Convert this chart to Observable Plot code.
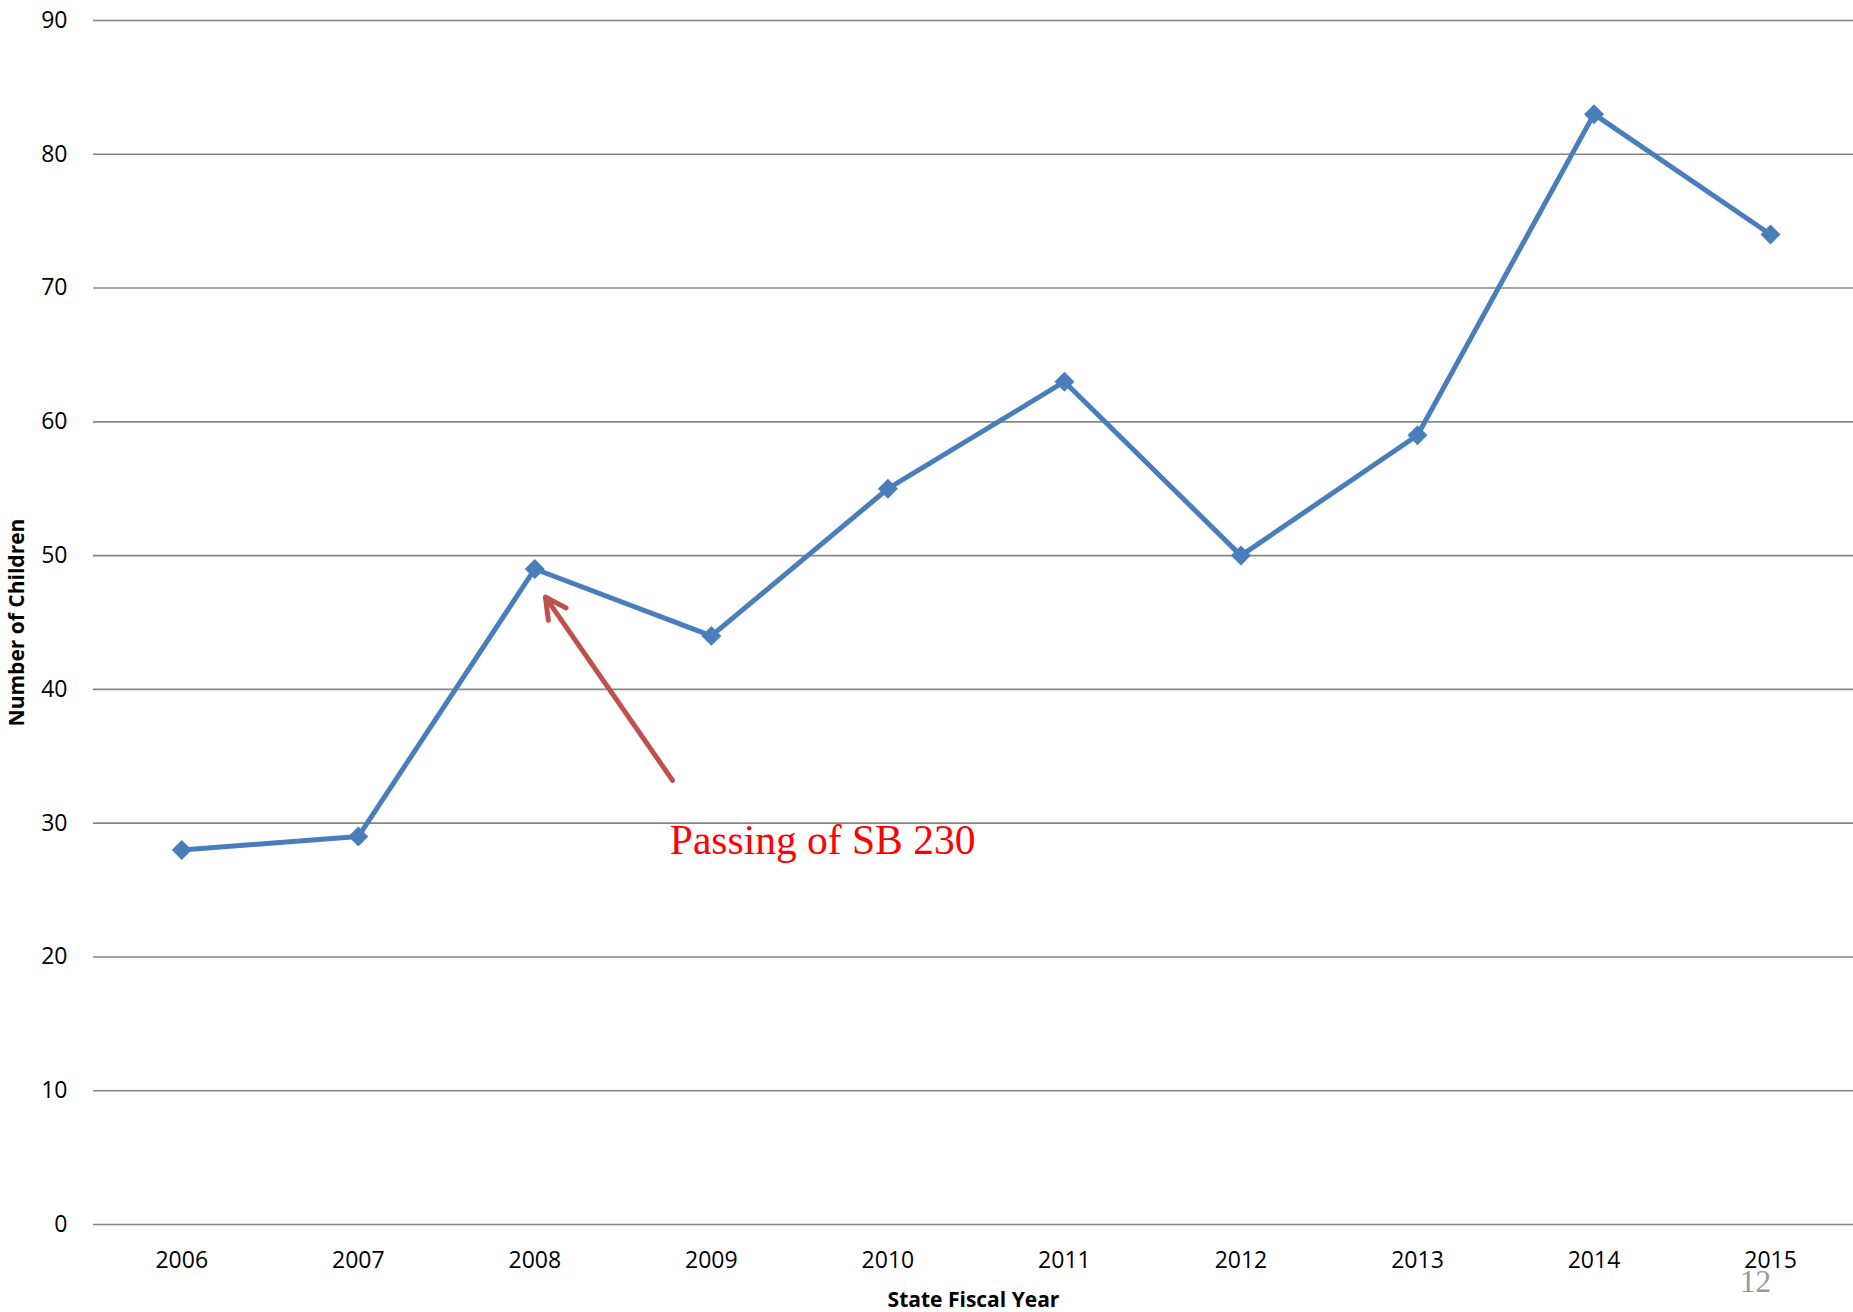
<!DOCTYPE html>
<html>
<head>
<meta charset="utf-8">
<script src="https://cdn.jsdelivr.net/npm/d3@7"></script>
<script src="https://cdn.jsdelivr.net/npm/@observablehq/plot@0.6"></script>
<style>
  html, body { margin: 0; padding: 0; background: #fff; }
  #wrap { position: relative; width: 1853px; height: 1312px; }
  #page { position: absolute; left: 1740px; top: 1264px; font-family: "Liberation Serif", serif; font-size: 31px; color: #999; }
</style>
</head>
<body>
<div id="wrap"><div id="chart"></div><div id="page">12</div></div>
<script>
const years = [2006, 2007, 2008, 2009, 2010, 2011, 2012, 2013, 2014, 2015];
const children = [28, 29, 49, 44, 55, 63, 50, 59, 83, 74];
const yTicks = [0, 10, 20, 30, 40, 50, 60, 70, 80, 90];
const annotationText = ["Passing of SB 230"];
const annotationTextPos = [{x: 2008.765, y: 27.7}];
const arrowPos = [{x1: 2008.78, y1: 33.2, x2: 2008.06, y2: 46.9}];
const xTitle = "State Fiscal Year";
const yTitle = "Number of Children";

const data = years.map((year, i) => ({year, value: children[i]}));

const fontFam = '"Open Sans", sans-serif';

const chart = Plot.plot({
  width: 1853,
  height: 1312,
  marginLeft: 93,
  marginRight: 0,
  marginTop: 20,
  marginBottom: 88,
  style: {fontFamily: fontFam, fontSize: "23px", color: "#000", background: "#fff"},
  x: {domain: [2005.5, 2015.47]},
  y: {domain: [0, 90]},
  marks: [
    Plot.gridY(yTicks, {stroke: "#868686", strokeOpacity: 1, strokeWidth: 1.6}),
    Plot.axisY({ticks: yTicks, tickSize: 0, tickPadding: 26, fontSize: 23, label: null}),
    Plot.axisX({ticks: years, tickFormat: d => String(d), tickSize: 0, tickPadding: 27, fontSize: 23, label: null}),
    Plot.line(data, {x: "year", y: "value", stroke: "#4A7EBB", strokeWidth: 5}),
    Plot.dot(data, {x: "year", y: "value", symbol: "diamond2", fill: "#4A7EBB", r: 9}),
    Plot.arrow(arrowPos, {x1: "x1", y1: "y1", x2: "x2", y2: "y2", stroke: "#C0504D", strokeWidth: 5, headLength: 7, headAngle: 55}),
    Plot.text(annotationTextPos, {x: "x", y: "y", text: () => annotationText[0], textAnchor: "start", lineAnchor: "bottom", fill: "#FF0000", fontFamily: '"Liberation Serif", serif', fontSize: 41.5}),
    Plot.text([xTitle], {frameAnchor: "bottom", text: d => d, dy: 76, fontWeight: "bold", fontSize: 21, lineAnchor: "middle"}),
    Plot.text([yTitle], {frameAnchor: "left", text: d => d, dx: -76, rotate: -90, textAnchor: "middle", fontWeight: "bold", fontSize: 21, lineAnchor: "middle"})
  ]
});
document.getElementById("chart").appendChild(chart);
</script>
</body>
</html>
